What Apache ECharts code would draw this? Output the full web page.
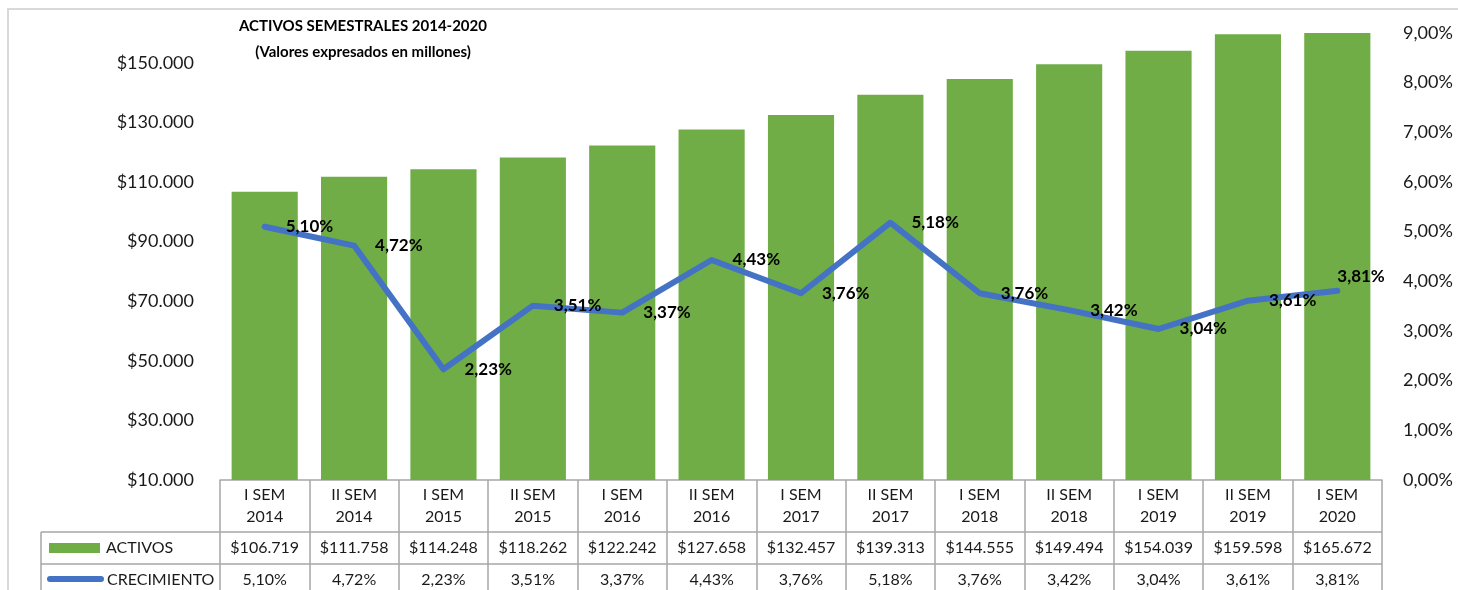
<!DOCTYPE html>
<html>
<head>
<meta charset="utf-8">
<script src="https://cdn.jsdelivr.net/npm/echarts@6/dist/echarts.min.js"></script>
<style>
html,body{margin:0;padding:0;background:#fff;}
#main{width:1458px;height:590px;}
</style>
</head>
<body>
<div id="main"></div>
<script>
// ---- data ----
const categories = ['I SEM\n2014','II SEM\n2014','I SEM\n2015','II SEM\n2015','I SEM\n2016','II SEM\n2016','I SEM\n2017','II SEM\n2017','I SEM\n2018','II SEM\n2018','I SEM\n2019','II SEM\n2019','I SEM\n2020'];
const activos = [106719,111758,114248,118262,122242,127658,132457,139313,144555,149494,154039,159598,165672];
const crecimiento = [5.10,4.72,2.23,3.51,3.37,4.43,3.76,5.18,3.76,3.42,3.04,3.61,3.81];
const leftTicks = [10000,30000,50000,70000,90000,110000,130000,150000];
const seriesNames = ['ACTIVOS','CRECIMIENTO'];
const titleText = 'ACTIVOS SEMESTRALES 2014-2020\n(Valores expresados en millones)';

// ---- layout ----
const W = 1458, H = 590;
const gridLeft = 220, gridRight = 76, gridTop = 33, gridBottom = 110;
const axisY = H - gridBottom;          // 480
const row1Y = axisY + 52;              // 532
const row2Y = axisY + 84;              // 564
const tableLeft = 41;
const tableRight = W - gridRight;
const FONT = 'Lato, "Open Sans", sans-serif';
const GREEN = '#70AD47', BLUE = '#4472C4', GRID = '#A6A6A6', TXT = '#1a1a1a';

function money(v){ return '$' + Math.round(v).toString().replace(/\B(?=(\d{3})+(?!\d))/g,'.'); }
function pct(v){ return v.toFixed(2).replace('.',',') + '%'; }

const chart = echarts.init(document.getElementById('main'), null, {renderer:'canvas'});

const lineData = crecimiento.map((v,i)=>{
  if (i === crecimiento.length-1) {
    return {value:v, label:{position:'top', align:'left', distance:5, padding:0}};
  }
  return v;
});

chart.setOption({
  animation:false,
  backgroundColor:'#fff',
  title:{
    text:titleText, left:358, top:8, textAlign:'center',
    textStyle:{fontFamily:FONT, fontSize:15, fontWeight:'bold', color:'#000', lineHeight:26}
  },
  grid:{left:gridLeft, right:gridRight, top:gridTop, bottom:gridBottom, containLabel:false},
  xAxis:[
    {type:'category', data:categories, gridIndex:0, position:'bottom',
     axisLine:{show:true, lineStyle:{color:GRID, width:1.5}},
     axisTick:{show:true, interval:0, length:125, lineStyle:{color:GRID, width:1.5}},
     axisLabel:{interval:0, margin:4, fontFamily:FONT, fontSize:16, color:TXT, lineHeight:22},
     splitLine:{show:false}},
    {type:'category', data:categories, gridIndex:0, position:'bottom', offset:52,
     axisLine:{show:false}, axisTick:{show:false}, splitLine:{show:false},
     axisLabel:{interval:0, margin:8, fontFamily:FONT, fontSize:16, color:TXT, lineHeight:16,
       formatter:(v,i)=>money(activos[i])}},
    {type:'category', data:categories, gridIndex:0, position:'bottom', offset:84,
     axisLine:{show:false}, axisTick:{show:false}, splitLine:{show:false},
     axisLabel:{interval:0, margin:8, fontFamily:FONT, fontSize:16, color:TXT, lineHeight:16,
       formatter:(v,i)=>pct(crecimiento[i])}}
  ],
  yAxis:[
    {type:'value', min:10000, max:160000, interval:10000, position:'left',
     axisLine:{show:false}, axisTick:{show:false}, splitLine:{show:false},
     axisLabel:{margin:26, fontFamily:FONT, fontSize:18, color:TXT,
       formatter:(v)=> leftTicks.indexOf(v) >= 0 ? money(v) : ''}},
    {type:'value', min:0, max:9, interval:1, position:'right',
     axisLine:{show:false}, axisTick:{show:false}, splitLine:{show:false},
     axisLabel:{margin:21, fontFamily:FONT, fontSize:18, color:TXT, formatter:(v)=>pct(v)}}
  ],
  series:[
    {name:seriesNames[0], type:'bar', data:activos, xAxisIndex:0, yAxisIndex:0,
     barCategoryGap:'26%', itemStyle:{color:GREEN}, clip:true, z:2},
    {name:seriesNames[1], type:'line', data:lineData, xAxisIndex:0, yAxisIndex:1,
     symbol:'circle', symbolSize:2, showSymbol:true, itemStyle:{color:BLUE},
     lineStyle:{color:BLUE, width:6, cap:'round', join:'round'}, z:3,
     labelLayout:{hideOverlap:false},
     label:{show:true, position:'right', distance:20, padding:[5,0,0,0], formatter:(p)=>pct(p.value),
       fontFamily:FONT, fontSize:17, fontWeight:'bold', color:'#000'}}
  ],
  graphic:[
    {type:'rect', shape:{x:8, y:9, width:W+20, height:H+20}, style:{fill:null, stroke:'#D9D9D9', lineWidth:2}, z:-1, silent:true},
    {type:'line', shape:{x1:tableLeft, y1:row1Y, x2:tableRight, y2:row1Y}, style:{stroke:GRID, lineWidth:1.5}},
    {type:'line', shape:{x1:tableLeft, y1:row2Y, x2:tableRight, y2:row2Y}, style:{stroke:GRID, lineWidth:1.5}},
    {type:'line', shape:{x1:tableLeft, y1:row1Y, x2:tableLeft, y2:H+10}, style:{stroke:GRID, lineWidth:1.5}},
    {type:'rect', shape:{x:49, y:543, width:51, height:10}, style:{fill:GREEN}},
    {type:'text', x:106, y:(row1Y+row2Y)/2, style:{text:seriesNames[0], font:'16px '+FONT, fill:TXT, textVerticalAlign:'middle', verticalAlign:'middle'}},
    {type:'line', shape:{x1:50, y1:579, x2:101, y2:579}, style:{stroke:BLUE, lineWidth:6, lineCap:'round'}},
    {type:'text', x:107, y:row2Y+16, style:{text:seriesNames[1], font:'16px '+FONT, fill:TXT, textVerticalAlign:'middle', verticalAlign:'middle'}}
  ]
});
</script>
</body>
</html>
